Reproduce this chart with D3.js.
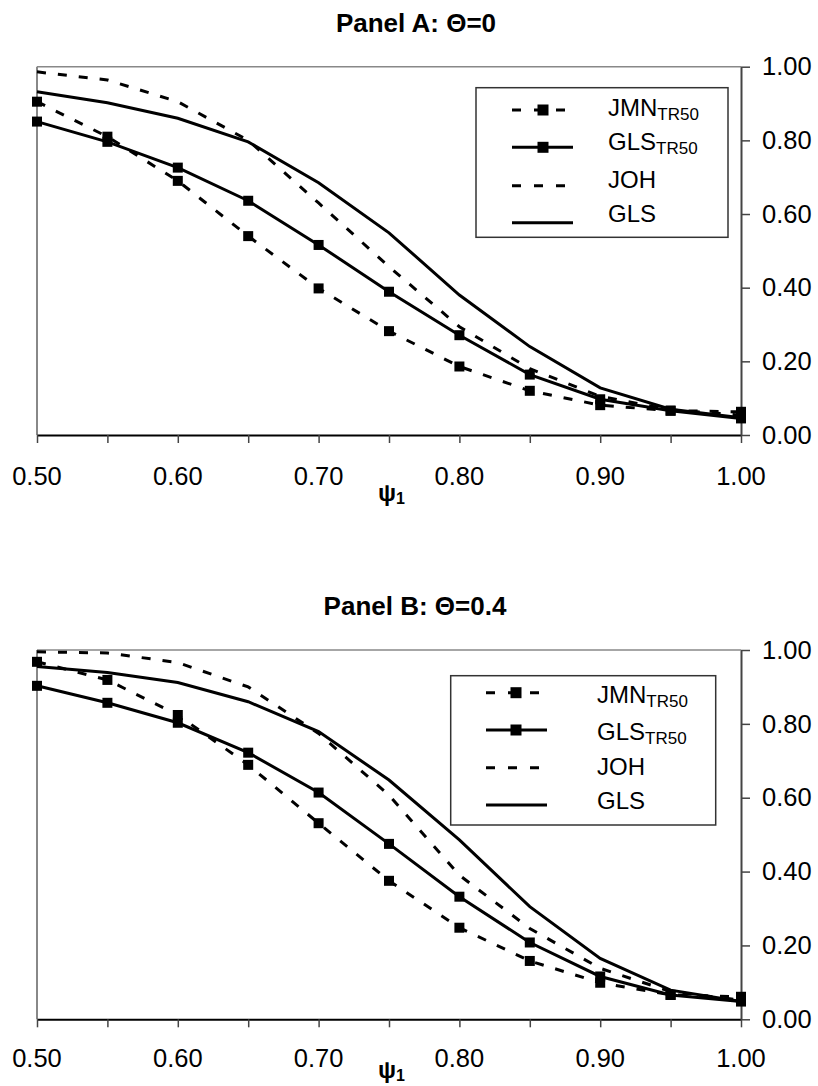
<!DOCTYPE html>
<html>
<head>
<meta charset="utf-8">
<script src="https://cdn.jsdelivr.net/npm/d3@7"></script>
<style>
  body { margin: 0; background: #fff; }
  text { font-family: "Liberation Sans", Arial, sans-serif; }
</style>
</head>
<body>
<svg id="chart" width="818" height="1086"></svg>
<script>
// categories on the x axis (psi_1)
const psi = [0.50, 0.55, 0.60, 0.65, 0.70, 0.75, 0.80, 0.85, 0.90, 0.95, 1.00];
const xLabelTicks = [0.50, 0.60, 0.70, 0.80, 0.90, 1.00];
const yTicks = [0.00, 0.20, 0.40, 0.60, 0.80, 1.00];

// Panel A: Theta = 0
const jmnA   = [0.905, 0.810, 0.690, 0.540, 0.398, 0.282, 0.186, 0.120, 0.081, 0.066, 0.063];
const glsTrA = [0.851, 0.796, 0.726, 0.636, 0.516, 0.389, 0.271, 0.164, 0.097, 0.066, 0.045];
const johA   = [0.986, 0.964, 0.905, 0.800, 0.630, 0.457, 0.294, 0.180, 0.105, 0.068, 0.054];
const glsA   = [0.932, 0.902, 0.860, 0.796, 0.685, 0.549, 0.380, 0.240, 0.128, 0.070, 0.047];

// Panel B: Theta = 0.4
const jmnB   = [0.968, 0.919, 0.824, 0.689, 0.531, 0.375, 0.248, 0.158, 0.099, 0.066, 0.061];
const glsTrB = [0.903, 0.857, 0.803, 0.722, 0.614, 0.475, 0.332, 0.208, 0.116, 0.066, 0.048];
const johB   = [0.995, 0.992, 0.966, 0.900, 0.774, 0.607, 0.390, 0.246, 0.138, 0.075, 0.052];
const glsB   = [0.955, 0.939, 0.912, 0.860, 0.779, 0.648, 0.486, 0.305, 0.165, 0.079, 0.048];

const seriesNames = ["JMN", "GLS", "JOH", "GLS"];
const seriesSubs  = ["TR50", "TR50", "", ""];
const seriesDash  = [true, false, true, false];
const seriesMark  = [true, true, false, false];

const svg = d3.select("#chart");
const fmt = d3.format(".2f");

function drawPanel(p) {
  const x = d3.scaleLinear().domain([0.5, 1.0]).range([p.left, p.right]);
  const y = d3.scaleLinear().domain([0, 1]).range([p.bottom, p.top]);
  const g = svg.append("g");

  // title
  g.append("text")
    .attr("x", p.titleX).attr("y", p.titleY)
    .attr("text-anchor", "middle")
    .style("font-size", "26px").style("font-weight", "bold")
    .text(p.title);

  // plot area border (top & left, gray)
  g.append("line").attr("x1", p.left).attr("x2", p.right).attr("y1", p.top).attr("y2", p.top)
    .style("stroke", "#888").style("stroke-width", 1.5);
  g.append("line").attr("x1", p.left).attr("x2", p.left).attr("y1", p.top).attr("y2", p.bottom)
    .style("stroke", "#888").style("stroke-width", 2);

  // x axis
  const xa = g.append("g")
    .attr("transform", "translate(0," + p.bottom + ")")
    .call(d3.axisBottom(x).tickValues(psi).tickSize(8).tickSizeOuter(0).tickFormat(""));
  xa.select(".domain").style("stroke", "#000").style("stroke-width", 2);
  xa.selectAll(".tick line").style("stroke", "#444").style("stroke-width", 1.5);

  g.selectAll(".xlab")
    .data(xLabelTicks)
    .enter()
    .append("text")
    .attr("class", "xlab")
    .attr("x", d => x(d))
    .attr("y", p.bottom + p.xLabOff)
    .attr("text-anchor", "middle")
    .style("font-size", "25.5px")
    .text(d => fmt(d));

  // y axis on the right
  const ya = g.append("g")
    .attr("transform", "translate(" + p.right + ",0)")
    .call(d3.axisRight(y).tickValues(yTicks).tickSize(9).tickSizeOuter(0).tickPadding(12).tickFormat(fmt));
  ya.select(".domain").style("stroke", "#444").style("stroke-width", 2);
  ya.selectAll(".tick line").style("stroke", "#444").style("stroke-width", 1.5);
  ya.selectAll(".tick text").style("font-size", "25.5px").style("fill", "#000")
    .style("font-family", "'Liberation Sans', Arial, sans-serif");

  // axis label psi_1
  const lab = g.append("text")
    .attr("x", p.psiX).attr("y", p.bottom + p.psiOff)
    .style("font-weight", "bold");
  lab.append("tspan").style("font-size", "24px").text("ψ");
  lab.append("tspan").style("font-size", "16px").attr("dy", 3).text("1");

  // series lines
  const line = d3.line().x((d, i) => x(psi[i])).y(d => y(d));
  p.series.forEach(function (vals, s) {
    g.append("path")
      .datum(vals)
      .attr("d", line)
      .style("fill", "none")
      .style("stroke", "#000")
      .style("stroke-width", 3)
      .style("stroke-dasharray", seriesDash[s] ? "9,12" : null);
  });
  p.series.forEach(function (vals, s) {
    if (!seriesMark[s]) return;
    g.selectAll(".mk" + s)
      .data(vals)
      .enter()
      .append("rect")
      .attr("x", (d, i) => x(psi[i]) - 5)
      .attr("y", d => y(d) - 5)
      .attr("width", 10)
      .attr("height", 10)
      .style("fill", "#000");
  });

  // legend
  const L = p.legend;
  g.append("rect")
    .attr("x", L.x).attr("y", L.y).attr("width", L.w).attr("height", L.h)
    .style("fill", "#fff").style("stroke", "#333").style("stroke-width", 1.5);
  seriesNames.forEach(function (name, s) {
    const ly = L.rows[s];
    g.append("line")
      .attr("x1", L.lx1).attr("x2", L.lx2).attr("y1", ly).attr("y2", ly)
      .style("stroke", "#000").style("stroke-width", 3)
      .style("stroke-dasharray", seriesDash[s] ? "9,13" : null);
    if (seriesMark[s]) {
      g.append("rect")
        .attr("x", (L.lx1 + L.lx2) / 2 - 5.5 + L.mkShift).attr("y", ly - 5.5)
        .attr("width", 11).attr("height", 11).style("fill", "#000");
    }
    const tx = g.append("text")
      .attr("x", L.tx).attr("y", L.base[s])
      .style("font-size", "24px");
    tx.append("tspan").text(name);
    if (seriesSubs[s]) {
      tx.append("tspan").attr("dy", 4).style("font-size", "17px").text(seriesSubs[s]);
    }
  });
}

drawPanel({
  title: "Panel A: Θ=0", titleX: 416, titleY: 32,
  left: 37, right: 741, top: 66.7, bottom: 435,
  xLabOff: 49.5, psiX: 378, psiOff: 66,
  series: [jmnA, glsTrA, johA, glsA],
  legend: {
    x: 476, y: 87.7, w: 252, h: 149.6,
    lx1: 512, lx2: 573, mkShift: 0.5, tx: 608,
    rows: [110, 147.3, 185.7, 222.7],
    base: [116, 150, 188.3, 221.7]
  }
});

drawPanel({
  title: "Panel B: Θ=0.4", titleX: 415, titleY: 615,
  left: 37, right: 741, top: 650, bottom: 1019.3,
  xLabOff: 47.3, psiX: 378, psiOff: 59,
  series: [jmnB, glsTrB, johB, glsB],
  legend: {
    x: 450.7, y: 675.7, w: 265, h: 149.3,
    lx1: 486, lx2: 547, mkShift: -0.5, tx: 597,
    rows: [692.7, 730, 767.7, 805],
    base: [702.7, 740, 775, 809.3]
  }
});
</script>
</body>
</html>
